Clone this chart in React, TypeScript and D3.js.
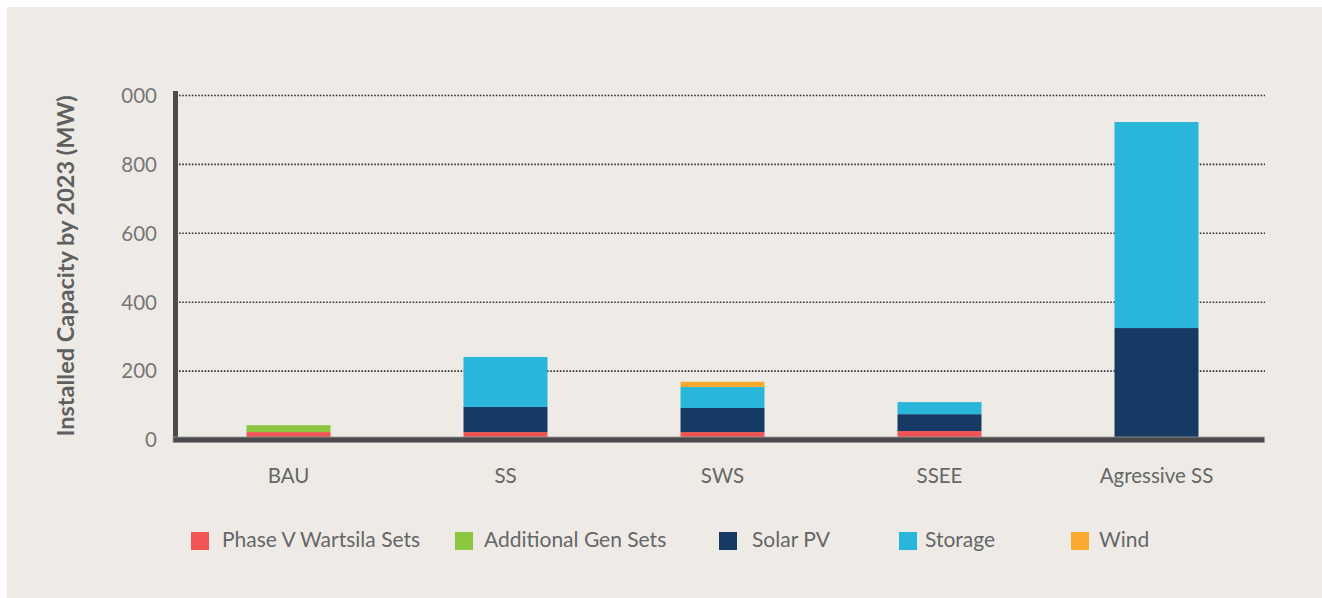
import React from "react";
import * as d3 from "d3";

const categories = ["BAU", "SS", "SWS", "SSEE", "Agressive SS"];
const seriesNames = ["Phase V Wartsila Sets", "Additional Gen Sets", "Solar PV", "Storage", "Wind"];
const seriesColors = ["#F15454", "#8DC63F", "#173A64", "#29B6DB", "#FBA82F"];
const phaseV = [23, 23, 23, 26, 0];
const additionalGen = [20, 0, 0, 0, 0];
const solarPV = [0, 73, 70, 49, 325];
const storage = [0, 145, 61, 35, 598];
const wind = [0, 0, 15, 0, 0];
const yTicks = [0, 200, 400, 600, 800, 1000];
const yTickLabels = ["0", "200", "400", "600", "800", "000"];
const legendX = [191, 455, 719, 899, 1071];
const legendTextX = [222, 484, 752, 925, 1099];

const FONT = "Lato, 'Open Sans', sans-serif";

export default function App() {
  const W = 1322, H = 598;
  const x = d3.scaleBand<string>().domain(categories).range([180, 1265]).paddingInner(0.613).paddingOuter(0.3065);
  const y = d3.scaleLinear().domain([0, 1000]).range([440, 95.5]);
  const rows = categories.map((c, i) => ({
    cat: c,
    s0: phaseV[i], s1: additionalGen[i], s2: solarPV[i], s3: storage[i], s4: wind[i],
  }));
  const stack = d3.stack<any>().keys(["s0", "s1", "s2", "s3", "s4"]);
  const layers = stack(rows);

  return (
    <div style={{ position: "absolute", left: 0, top: 0 }}>
      <svg width={W} height={H} style={{ display: "block" }}>
        <rect x={0} y={0} width={W} height={H} fill="#ffffff" />
        <rect x={7} y={7} width={W - 7} height={H - 7} fill="#EEEBE6" />
        {yTicks.filter(t => t > 0).map(t => (
          <line key={t} x1={179} x2={1265} y1={y(t)} y2={y(t)} stroke="#333" strokeWidth={1.6} strokeDasharray="1.6,1.6" />
        ))}
        {layers.map((layer, li) => (
          <g key={li} fill={seriesColors[li]}>
            {layer.map((d, i) => {
              const h = y(d[0]) - y(d[1]);
              if (h <= 0) return null;
              return <rect key={i} x={x(categories[i])} y={y(d[1])} width={x.bandwidth()} height={h} />;
            })}
          </g>
        ))}
        <rect x={173} y={91} width={5} height={351.5} fill="#4B4B4D" />
        <rect x={173} y={437} width={1091.5} height={5.5} fill="#4B4B4D" stroke="#9a9a9a" strokeWidth={0.8} />
        {yTicks.map((t, i) => (
          <text key={t} x={157} y={y(t)} dy="0.36em" textAnchor="end" fontFamily={FONT} fontWeight={400} fontSize={20.5} fill="#777">
            {yTickLabels[i]}
          </text>
        ))}
        <text transform={`translate(74,266) rotate(-90)`} textAnchor="middle" fontFamily={FONT} fontWeight={700} fontSize={23.5} fill="#5f5f5f">
          Installed Capacity by 2023 (MW)
        </text>
        {categories.map(c => (
          <text key={c} x={(x(c) as number) + x.bandwidth() / 2} y={483} textAnchor="middle" fontFamily={FONT} fontWeight={400} fontSize={20.5} fill="#666">
            {c}
          </text>
        ))}
        {seriesNames.map((n, i) => (
          <g key={n}>
            <rect x={legendX[i]} y={532} width={18} height={18} fill={seriesColors[i]} />
            <text x={legendTextX[i]} y={547} fontFamily={FONT} fontWeight={400} fontSize={21} fill="#666">
              {n}
            </text>
          </g>
        ))}
      </svg>
    </div>
  );
}
